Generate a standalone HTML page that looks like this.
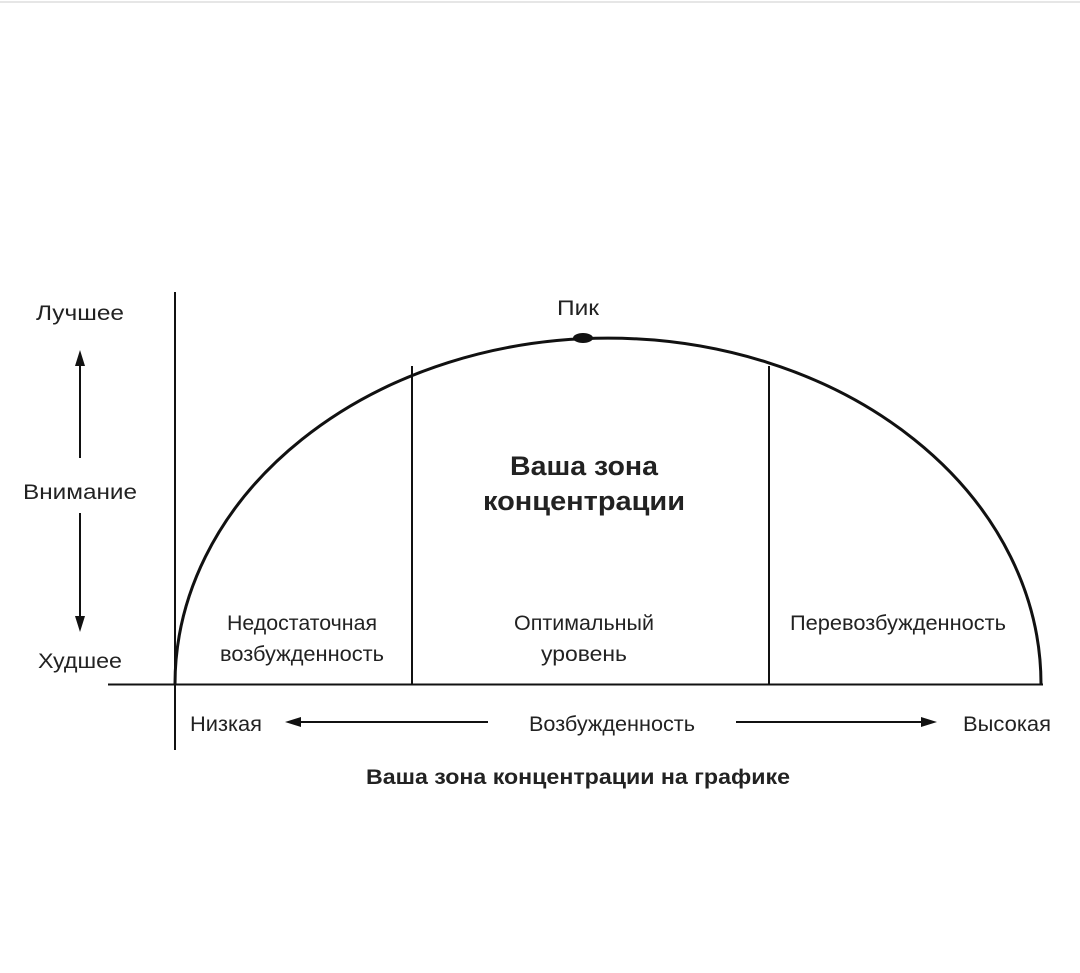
<!DOCTYPE html>
<html><head><meta charset="utf-8"><style>
html,body{margin:0;padding:0;background:#fff;}
svg{display:block;}
text{font-family:"Liberation Sans Narrow","Liberation Sans",sans-serif;fill:#222;}
</style></head><body>
<svg width="1080" height="973" viewBox="0 0 1080 973" xmlns="http://www.w3.org/2000/svg">
<line x1="0" y1="2" x2="1080" y2="2" stroke="#e6e6e6" stroke-width="2"/>
<g stroke="#111" fill="none">
<line x1="175" y1="292" x2="175" y2="750" stroke-width="2"/>
<line x1="108" y1="684.5" x2="1043" y2="684.5" stroke-width="2"/>
<path d="M175 684 A433 346 0 0 1 1041 684" stroke-width="3"/>
<line x1="412" y1="366" x2="412" y2="684" stroke-width="2"/>
<line x1="769" y1="366" x2="769" y2="684" stroke-width="2"/>
<line x1="80" y1="360" x2="80" y2="458" stroke-width="2"/>
<line x1="80" y1="513" x2="80" y2="622" stroke-width="2"/>
<line x1="298" y1="722" x2="488" y2="722" stroke-width="2"/>
<line x1="736" y1="722" x2="925" y2="722" stroke-width="2"/>
</g>
<g fill="#111">
<polygon points="80,350 75,366 85,366"/>
<polygon points="80,632 75,616 85,616"/>
<polygon points="285,722 301,717 301,727"/>
<polygon points="937,722 921,717 921,727"/>
<ellipse cx="583" cy="338" rx="10" ry="5"/>
</g>
<g font-size="21" text-anchor="middle">
<text x="80" y="320" textLength="88" lengthAdjust="spacingAndGlyphs">Лучшее</text>
<text x="80" y="499" textLength="114" lengthAdjust="spacingAndGlyphs">Внимание</text>
<text x="80" y="668" textLength="84" lengthAdjust="spacingAndGlyphs">Худшее</text>
<text x="578" y="315" textLength="42" lengthAdjust="spacingAndGlyphs">Пик</text>
<text x="302" y="630" textLength="150" lengthAdjust="spacingAndGlyphs">Недостаточная</text>
<text x="302" y="661" textLength="164" lengthAdjust="spacingAndGlyphs">возбужденность</text>
<text x="584" y="630" textLength="140" lengthAdjust="spacingAndGlyphs">Оптимальный</text>
<text x="584" y="661" textLength="86" lengthAdjust="spacingAndGlyphs">уровень</text>
<text x="898" y="630" textLength="216" lengthAdjust="spacingAndGlyphs">Перевозбужденность</text>
<text x="226" y="731" textLength="72" lengthAdjust="spacingAndGlyphs">Низкая</text>
<text x="612" y="731" textLength="166" lengthAdjust="spacingAndGlyphs">Возбужденность</text>
<text x="1007" y="731" textLength="88" lengthAdjust="spacingAndGlyphs">Высокая</text>
</g>
<g font-weight="bold" text-anchor="middle">
<text x="584" y="475" font-size="27" textLength="148" lengthAdjust="spacingAndGlyphs">Ваша зона</text>
<text x="584" y="510" font-size="27" textLength="202" lengthAdjust="spacingAndGlyphs">концентрации</text>
<text x="578" y="784" font-size="21" textLength="424" lengthAdjust="spacingAndGlyphs">Ваша зона концентрации на графике</text>
</g>
</svg>
</body></html>
